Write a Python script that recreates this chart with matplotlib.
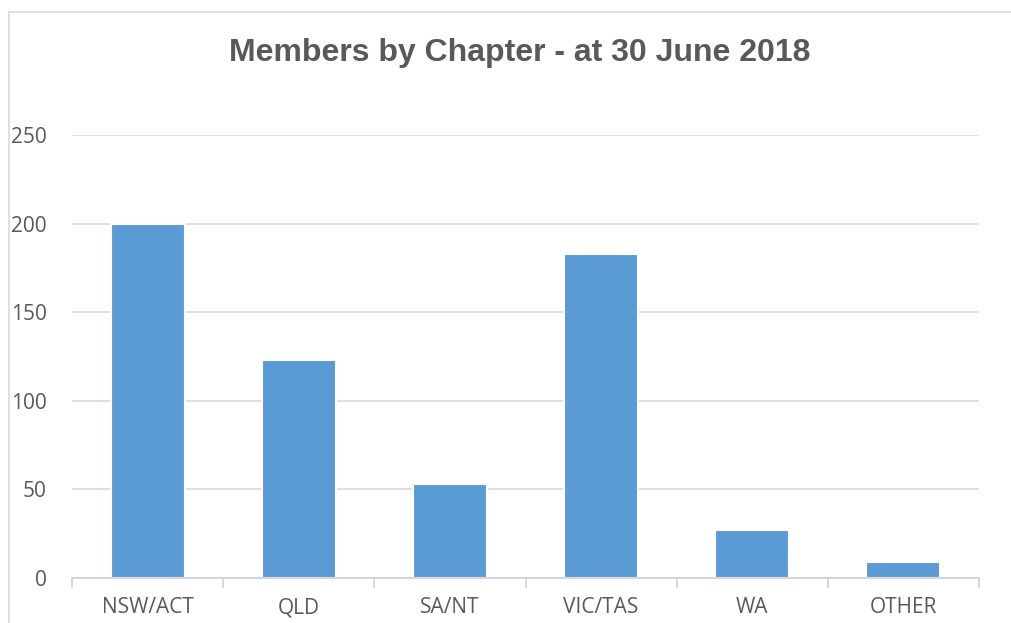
import matplotlib.pyplot as plt
from matplotlib.patches import Rectangle
from matplotlib.ticker import MultipleLocator, FixedLocator

chapters = ['NSW/ACT', 'QLD', 'SA/NT', 'VIC/TAS', 'WA', 'OTHER']
members = [200, 123, 53, 183, 27, 9]

fig = plt.figure(figsize=(10.11, 6.23), dpi=100)
# chart frame (cropped at right/bottom like the screenshot)
fig.patches.append(Rectangle((9 / 1011, -0.1), 1.2, (623 - 12) / 623 + 0.1,
                             transform=fig.transFigure, fill=False,
                             edgecolor='#d9d9d9', linewidth=1.2))

ax = fig.add_axes([72 / 1011, 45 / 623, 907 / 1011, 443 / 623])
x = range(len(chapters))
ax.bar(x, members, width=0.49, color='#5b9bd5', edgecolor='white',
       linewidth=1.5, zorder=3)

ax.set_xlim(-0.5, len(chapters) - 0.5)
ax.set_ylim(0, 250)
ax.yaxis.set_major_locator(MultipleLocator(50))
ax.grid(axis='y', color='#d9d9d9', linewidth=1.2, zorder=0)

for s in ['top', 'right', 'left']:
    ax.spines[s].set_visible(False)
ax.spines['bottom'].set_color('#d0d0d0')
ax.spines['bottom'].set_linewidth(1.2)
ax.spines['bottom'].set_zorder(4)

ax.set_xticks(list(x))
ax.set_xticklabels(chapters)
ax.tick_params(axis='x', which='major', length=0, pad=14,
               labelsize=15, labelcolor='#595959')
ax.xaxis.set_minor_locator(FixedLocator([i - 0.5 for i in range(len(chapters) + 1)]))
ax.tick_params(axis='x', which='minor', length=7, width=1.2, color='#d0d0d0')
ax.tick_params(axis='y', length=0, pad=18, labelsize=15, labelcolor='#595959')
for lab in ax.get_xticklabels() + ax.get_yticklabels():
    lab.set_family(['Open Sans', 'DejaVu Sans'])

fig.text(520 / 1011, 1 - 53 / 623, 'Members by Chapter - at 30 June 2018',
         ha='center', va='center', fontsize=23, fontweight='bold',
         color='#595959', family=['Liberation Sans Narrow', 'Liberation Sans'])

fig.savefig('out.png', dpi=100)
